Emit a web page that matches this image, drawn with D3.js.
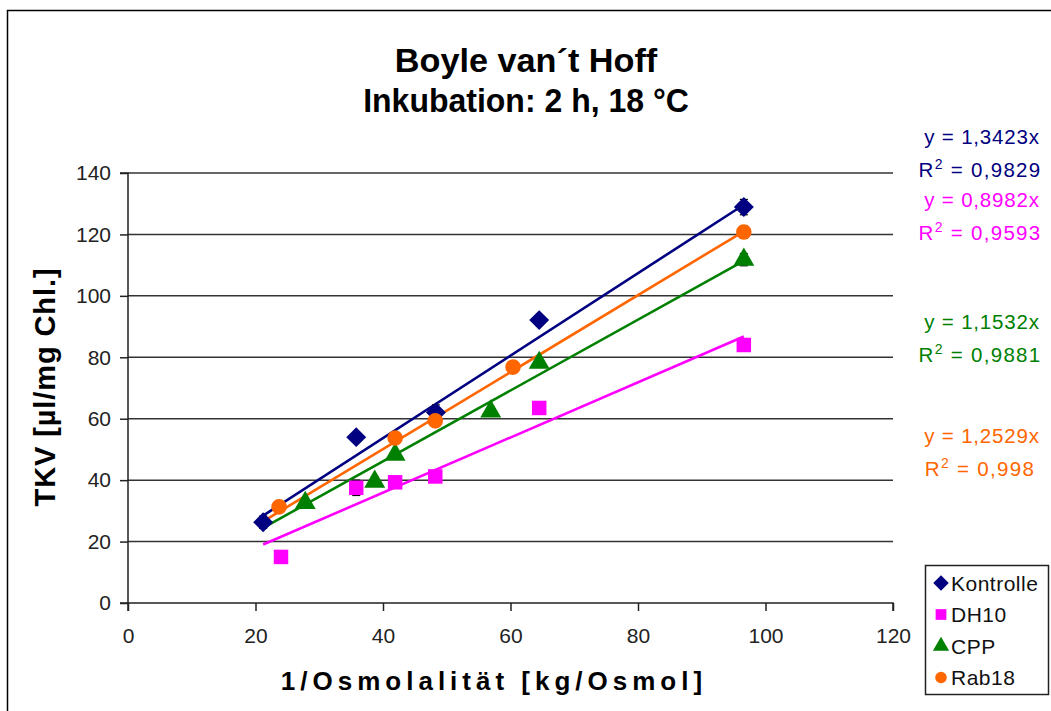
<!DOCTYPE html>
<html>
<head>
<meta charset="utf-8">
<script src="https://cdn.jsdelivr.net/npm/d3@7"></script>
<style>
  html, body { margin: 0; padding: 0; background: #fff; }
  svg { display: block; font-family: "Liberation Sans", Arial, sans-serif; }
</style>
</head>
<body>
<svg id="chart" width="1051" height="711"></svg>
<script>
// Series names and colours
const seriesNames = ["Kontrolle", "DH10", "CPP", "Rab18"];
const seriesColors = ["#000080", "#FF00FF", "#008000", "#FF6600"];
const seriesSymbols = ["diamond", "square", "triangle", "circle"];

// Measured points: 1/Osmolality [kg/Osmol] and TKV [µl/mg Chl.]
const kontrolleX = [21.2, 35.8, 48.3, 64.5, 96.6];
const kontrolleY = [26.3, 54.0, 62.0, 92.1, 128.9];
const kontrolleErr = [2.0, 1.5, 2.5, 1.5, 2.5];

const dh10X = [24.0, 35.8, 41.9, 48.2, 64.5, 96.6];
const dh10Y = [15.0, 37.5, 39.3, 41.2, 63.5, 84.0];
const dh10Err = [1.0, 2.5, 1.0, 1.0, 1.5, 2.0];

const cppX = [27.8, 38.7, 41.9, 56.9, 64.5, 96.6];
const cppY = [32.6, 39.5, 48.3, 62.4, 78.2, 111.8];
const cppErr = [1.0, 1.5, 1.0, 1.0, 1.0, 2.0];

const rab18X = [23.7, 41.9, 48.2, 60.4, 96.6];
const rab18Y = [31.3, 53.7, 59.3, 76.8, 120.8];
const rab18Err = [1.5, 1.0, 1.0, 1.0, 2.0];

// Linear fits through the origin
const slopes = [1.3423, 0.8982, 1.1532, 1.2529];
const equationLabels = ["y = 1,3423x", "y = 0,8982x", "y = 1,1532x", "y = 1,2529x"];
const rSquaredLabels = ["0,9829", "0,9593", "0,9881", "0,998"];
const fitRange = [21.2, 96.6];

// Axis ticks
const xTicks = [0, 20, 40, 60, 80, 100, 120];
const yTicks = [0, 20, 40, 60, 80, 100, 120, 140];

const titleLines = ["Boyle van\u00B4t Hoff", "Inkubation: 2 h, 18 \u00B0C"];
const xTitle = "1/Osmolalit\u00E4t [kg/Osmol]";
const yTitle = "TKV [\u00B5l/mg Chl.]";

const series = [
  { x: kontrolleX, y: kontrolleY, e: kontrolleErr },
  { x: dh10X, y: dh10Y, e: dh10Err },
  { x: cppX, y: cppY, e: cppErr },
  { x: rab18X, y: rab18Y, e: rab18Err }
].map((s, i) => ({
  name: seriesNames[i], color: seriesColors[i], symbol: seriesSymbols[i],
  slope: slopes[i], eq: equationLabels[i], r2: rSquaredLabels[i],
  points: s.x.map((xv, j) => ({ x: xv, y: s.y[j], e: s.e[j] }))
}));

const svg = d3.select("#chart");
const plot = { left: 128, right: 893, top: 173, bottom: 603 };

const x = d3.scaleLinear().domain([0, 120]).range([plot.left, plot.right]);
const y = d3.scaleLinear().domain([0, 140]).range([plot.bottom, plot.top]);

// Outer chart frame
svg.append("rect")
  .attr("x", 7.5).attr("y", 10.5)
  .attr("width", 1060).attr("height", 720)
  .attr("fill", "#fff").attr("stroke", "#000").attr("stroke-width", 1.5);

// Title
svg.append("g").selectAll("text").data(titleLines).join("text")
  .attr("x", 0).attr("y", 0)
  .attr("text-anchor", "middle")
  .attr("font-size", 32).attr("font-weight", "bold")
  .attr("fill", "#000")
  .attr("transform", (d, i) => `translate(526,${72 + i * 40}) scale(${i === 0 ? 1.07 : 1.0},1.06)`)
  .text(d => d);

// Horizontal gridlines
svg.append("g").selectAll("line").data(yTicks.filter(d => d > 0)).join("line")
  .attr("x1", plot.left).attr("x2", plot.right)
  .attr("y1", d => y(d)).attr("y2", d => y(d))
  .attr("stroke", "#333").attr("stroke-width", 1.5);

// Axes
const xAxis = svg.append("g")
  .attr("transform", `translate(0,${plot.bottom})`)
  .call(d3.axisBottom(x).tickValues(xTicks).tickSize(8).tickPadding(17).tickFormat(d3.format("d")));
const yAxis = svg.append("g")
  .attr("transform", `translate(${plot.left},0)`)
  .call(d3.axisLeft(y).tickValues(yTicks).tickSize(8).tickPadding(9).tickFormat(d3.format("d")));
[xAxis, yAxis].forEach(a => {
  a.select(".domain").attr("stroke", "#222").attr("stroke-width", 1.5);
  a.selectAll(".tick line").attr("stroke", "#222").attr("stroke-width", 1.5);
  a.selectAll(".tick text").attr("font-size", 21).attr("fill", "#222")
    .attr("font-family", "\"Liberation Sans\", Arial, sans-serif");
});
xAxis.select(".domain").attr("d", `M${plot.left},8V0H${plot.right}V8`);
yAxis.select(".domain").attr("d", `M-8,${plot.top}H0V${plot.bottom}H-8`);

// Axis titles
svg.append("text")
  .attr("x", 494).attr("y", 690)
  .attr("text-anchor", "middle")
  .attr("font-size", 26).attr("font-weight", "bold")
  .attr("letter-spacing", 5)
  .text(xTitle);
svg.append("text")
  .attr("transform", "translate(55,387) rotate(-90)")
  .attr("text-anchor", "middle")
  .attr("font-size", 29).attr("font-weight", "bold")
  .attr("letter-spacing", 0.9)
  .text(yTitle);

// Fitted lines through the origin
const fitG = svg.append("g");
series.forEach(s => {
  fitG.append("line")
    .attr("x1", x(fitRange[0])).attr("y1", y(s.slope * fitRange[0]))
    .attr("x2", x(fitRange[1])).attr("y2", y(s.slope * fitRange[1]))
    .attr("stroke", s.color).attr("stroke-width", 2.6);
});

// Error bars
const errG = svg.append("g");
series.forEach(s => {
  s.points.forEach(p => {
    const cx = x(p.x);
    errG.append("line").attr("x1", cx).attr("x2", cx)
      .attr("y1", y(p.y - p.e)).attr("y2", y(p.y + p.e))
      .attr("stroke", "#000").attr("stroke-width", 1.2);
    [p.y - p.e, p.y + p.e].forEach(v => {
      errG.append("line").attr("x1", cx - 4).attr("x2", cx + 4)
        .attr("y1", y(v)).attr("y2", y(v))
        .attr("stroke", "#000").attr("stroke-width", 1.2);
    });
  });
});

// Markers
const symbolTypes = {
  diamond: { type: d3.symbolDiamond, size: 115 },
  square: { type: d3.symbolSquare, size: 210 },
  triangle: { type: d3.symbolTriangle, size: 190 },
  circle: { type: d3.symbolCircle, size: 190 }
};
function symbolPath(name, scale = 1) {
  const sdef = symbolTypes[name];
  return d3.symbol().type(sdef.type).size(sdef.size * scale)();
}
const markG = svg.append("g");
series.forEach(s => {
  markG.append("g").selectAll("path").data(s.points).join("path")
    .attr("transform", p => `translate(${x(p.x)},${y(p.y)})${s.symbol === "diamond" ? " scale(1.73,1)" : ""}`)
    .attr("d", symbolPath(s.symbol))
    .attr("fill", s.color);
});

// Regression equations on the right
const eqG = svg.append("g").attr("font-size", 20.5).attr("letter-spacing", 0.8);
const eqY = [137, 200, 322, 436];
series.forEach((s, i) => {
  eqG.append("text")
    .attr("x", 982).attr("y", eqY[i] + 7)
    .attr("text-anchor", "middle").attr("fill", s.color)
    .text(s.eq);
  const r = eqG.append("text")
    .attr("x", 980).attr("y", eqY[i] + 40)
    .attr("text-anchor", "middle").attr("fill", s.color)
    .attr("letter-spacing", 1.3);
  r.append("tspan").text("R");
  r.append("tspan").attr("dy", -8).attr("font-size", 14).text("2");
  r.append("tspan").attr("dy", 8).text(" = " + s.r2);
});

// Legend
const legend = svg.append("g");
legend.append("rect")
  .attr("x", 925.5).attr("y", 565.5).attr("width", 123).attr("height", 129)
  .attr("fill", "#fff").attr("stroke", "#222").attr("stroke-width", 1.5);
const legendSymbolScale = { diamond: 0.6, square: 0.55, triangle: 0.6, circle: 0.55 };
series.forEach((s, i) => {
  const ly = 583 + i * 31.5;
  legend.append("path")
    .attr("transform", `translate(941,${ly})${s.symbol === "diamond" ? " scale(1.73,1)" : ""}`)
    .attr("d", symbolPath(s.symbol, legendSymbolScale[s.symbol]))
    .attr("fill", s.color);
  legend.append("text")
    .attr("x", 951).attr("y", ly + 7.5)
    .attr("font-size", 21).attr("letter-spacing", 0.5).attr("fill", "#111")
    .text(s.name);
});
</script>
</body>
</html>
